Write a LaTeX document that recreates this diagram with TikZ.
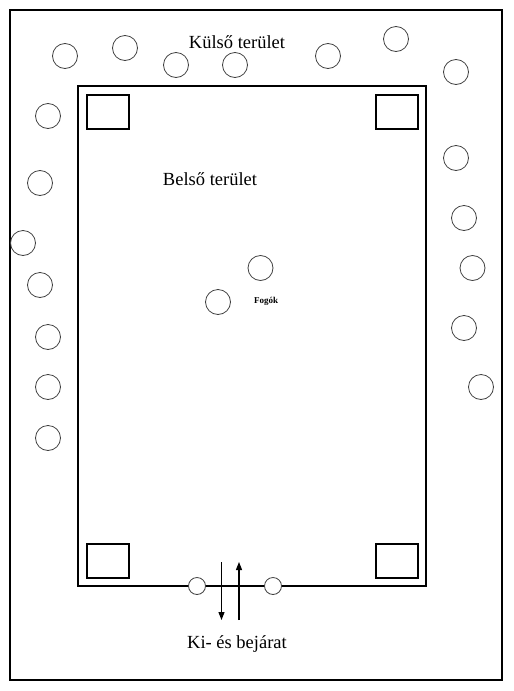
\documentclass[tikz,border=0pt]{standalone}
\usepackage{fontspec}
\setmainfont{Liberation Serif}
\usetikzlibrary{arrows.meta}

\begin{document}
\begin{tikzpicture}[x=1pt,y=-1pt,
  player/.style={draw=black!75,line width=0.8pt,circle,minimum size=25pt,inner sep=0pt},
  gatepost/.style={draw=black!75,fill=white,line width=0.8pt,circle,minimum size=17pt,inner sep=0pt},
  base/.style={draw,line width=2pt,minimum width=42pt,minimum height=34pt,inner sep=0pt},
  area/.style={font=\fontsize{18.5}{20}\selectfont},
  way/.style={line width=1.2pt,-{Triangle[length=8pt,width=6pt]}}]
\useasboundingbox (0,0) rectangle (514,691);

% Outer frame
\draw[line width=2pt] (10,10) rectangle (502,680);
\node[area] (kulso) at (237,42) {Külső terület};

% Inner field
\draw[line width=2pt] (78,86) rectangle (426,586);
\node[area] (belso) at (210,179) {Belső terület};

% Bases in the corners
\node[base] (bal-fent) at (108,112) {};
\node[base] (jobb-fent) at (396.5,112) {};
\node[base] (bal-lent) at (108,561) {};
\node[base] (jobb-lent) at (396.5,561) {};

% Players outside, top
\node[player] (k1) at (65,56) {};
\node[player] (k2) at (125,48) {};
\node[player] (k3) at (176,65) {};
\node[player] (k4) at (235,65) {};
\node[player] (k5) at (328,56) {};
\node[player] (k6) at (396,39) {};
\node[player] (k7) at (456,72) {};

% Players outside, left
\node[player] (b1) at (48,116) {};
\node[player] (b2) at (40,183) {};
\node[player] (b3) at (23,243) {};
\node[player] (b4) at (40,285) {};
\node[player] (b5) at (48,337) {};
\node[player] (b6) at (48,387) {};
\node[player] (b7) at (48,438) {};

% Players outside, right
\node[player] (j1) at (456,158) {};
\node[player] (j2) at (464,218) {};
\node[player] (j3) at (472.5,268) {};
\node[player] (j4) at (464,328) {};
\node[player] (j5) at (481,387) {};

% Catchers
\node[player] (f1) at (260.5,268) {};
\node[player] (f2) at (218,302) {};
\node[font=\fontsize{9}{10}\selectfont\bfseries] (fogok) at (266,301) {Fogók};

% Gate
\node[gatepost] (kapu1) at (197,586) {};
\node[gatepost] (kapu2) at (273,586) {};
\coordinate (ki-fent) at (221.5,562);
\coordinate (ki-lent) at (221.5,620);
\coordinate (be-lent) at (239,620);
\coordinate (be-fent) at (239,562);
\draw[way] (ki-fent) -- (ki-lent);
\draw[way] (be-lent) -- (be-fent);
\node[area] (bejarat) at (237,644) {Ki- és bejárat};
\end{tikzpicture}
\end{document}
